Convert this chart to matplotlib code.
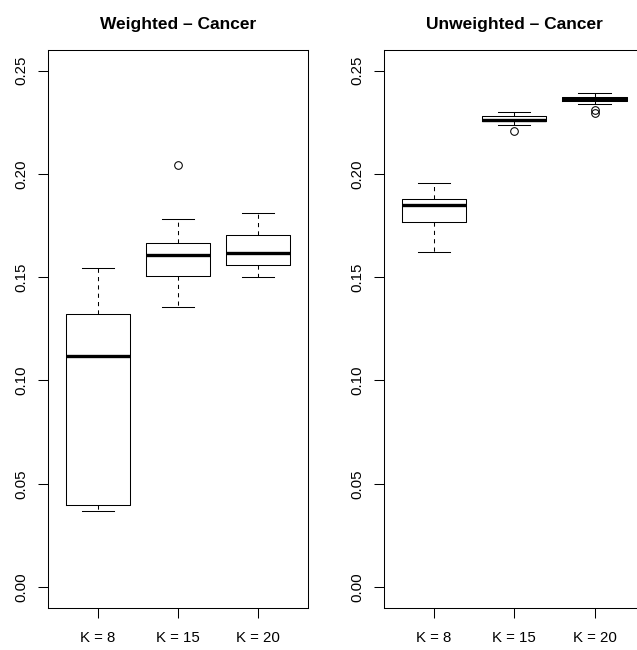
import matplotlib
matplotlib.use('Agg')
import matplotlib.pyplot as plt

plt.rcParams['font.family'] = ['Liberation Sans', 'DejaVu Sans']

groups = ['K = 8', 'K = 15', 'K = 20']

# weighted: whislo, q1, median, q3, whishi, outliers
w_lo = [0.0368, 0.1358, 0.1503]
w_q1 = [0.0397, 0.1506, 0.1558]
w_med = [0.1119, 0.1608, 0.1616]
w_q3 = [0.1321, 0.1665, 0.1702]
w_hi = [0.1547, 0.1782, 0.1810]
w_out = [[], [0.2045], []]

# unweighted
u_lo = [0.1621, 0.2236, 0.2337]
u_q1 = [0.1769, 0.2255, 0.2352]
u_med = [0.1849, 0.2263, 0.2363]
u_q3 = [0.1878, 0.2282, 0.2374]
u_hi = [0.1958, 0.2300, 0.2394]
u_out = [[], [0.2208], [0.2310, 0.2297]]

yticks = [0.00, 0.05, 0.10, 0.15, 0.20, 0.25]


def make_stats(lo, q1, med, q3, hi, out):
    stats = []
    for i in range(len(groups)):
        stats.append({'whislo': lo[i], 'q1': q1[i], 'med': med[i],
                      'q3': q3[i], 'whishi': hi[i], 'fliers': out[i],
                      'label': groups[i]})
    return stats


def draw_panel(ax, stats, title):
    lw = 0.75
    ax.bxp(stats, positions=[1, 2, 3], widths=0.8,
           boxprops=dict(color='black', linewidth=lw),
           whiskerprops=dict(color='black', linewidth=lw, linestyle=(0, (4, 4))),
           capprops=dict(color='black', linewidth=lw),
           capwidths=0.4,
           medianprops=dict(color='black', linewidth=2.4, solid_capstyle='butt'),
           flierprops=dict(marker='o', markerfacecolor='none',
                           markeredgecolor='black', markersize=5.5,
                           markeredgewidth=0.75))
    ax.set_xlim(0.38, 3.62)
    ax.set_ylim(-0.01, 0.26)
    ax.set_yticks(yticks)
    ax.set_yticklabels(['%.2f' % v for v in yticks], rotation=90, va='center')
    ax.set_xticks([1, 2, 3])
    ax.set_xticklabels(groups)
    ax.tick_params(axis='both', length=7, width=0.75, labelsize=10.8)
    ax.tick_params(axis='x', pad=10)
    ax.tick_params(axis='y', pad=7)
    for s in ax.spines.values():
        s.set_linewidth(0.75)
    ax.set_title(title, fontsize=12.5, fontweight='bold', pad=15)


fig = plt.figure(figsize=(6.37, 6.5), dpi=100)
ax1 = fig.add_axes([48 / 637, 42.3 / 650, 260 / 637, 557.7 / 650])
ax2 = fig.add_axes([384.3 / 637, 42.3 / 650, 260 / 637, 557.7 / 650])

draw_panel(ax1, make_stats(w_lo, w_q1, w_med, w_q3, w_hi, w_out),
           'Weighted \u2013 Cancer')
draw_panel(ax2, make_stats(u_lo, u_q1, u_med, u_q3, u_hi, u_out),
           'Unweighted \u2013 Cancer')

fig.savefig('out.png', dpi=100)
